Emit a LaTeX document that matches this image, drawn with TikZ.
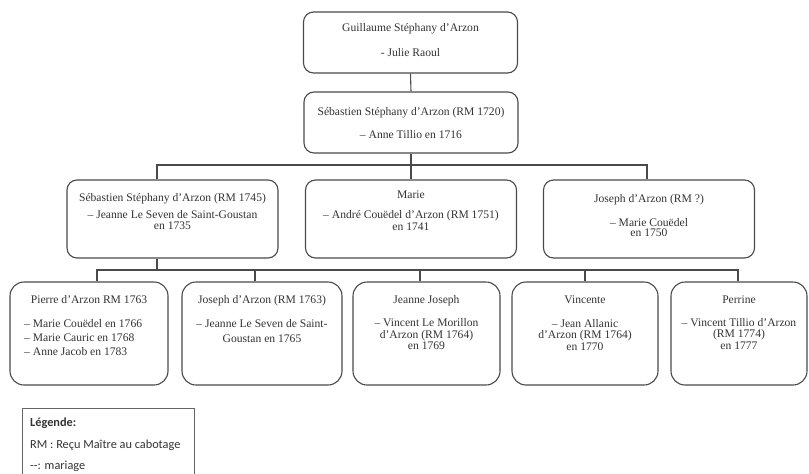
\documentclass[tikz,border=0pt]{standalone}
\usepackage{fontspec}
\setmainfont{Liberation Serif}
\newfontfamily\legfont{Carlito}
\definecolor{edge}{HTML}{4A4A4A}
\definecolor{ink}{HTML}{333333}
\begin{document}
\begin{tikzpicture}[x=1pt,y=-1pt,
  box/.style={draw=edge, line width=1.1pt, rounded corners=10pt, inner sep=0pt},
  lowbox/.style={box, rounded corners=14pt, minimum height=103pt},
  midbox/.style={box, minimum height=78pt, minimum width=211pt},
  topbox/.style={box, minimum height=61pt, minimum width=214pt},
  txt/.style={text=ink, inner sep=0pt, anchor=north, align=center, font=\fontsize{11.6}{11.5}\selectfont},
  link/.style={draw=edge, line width=1.1pt},
  legtxt/.style={text=ink, inner sep=0pt, anchor=north west, align=left, font=\legfont\fontsize{12.3}{21.5}\selectfont}
]
\useasboundingbox (0,0) rectangle (809,474);

% boxes
\node[topbox] (b1) at (410.5,42.5) {};
\node[topbox] (b2) at (411,122.5) {};
\node[midbox] (c1) at (172.5,219) {};
\node[midbox] (c2) at (411,219) {};
\node[midbox] (c3) at (649,219) {};
\node[lowbox, minimum width=158pt] (d1) at (89,333.5) {};
\node[lowbox, minimum width=160pt] (d2) at (262,333.5) {};
\node[lowbox, minimum width=147pt] (d3) at (426.5,333.5) {};
\node[lowbox, minimum width=146pt] (d4) at (585,333.5) {};
\node[lowbox, minimum width=136pt] (d5) at (739,333.5) {};

% texts
\node[txt] (t1) at ([yshift=-12pt]b1.north) {Guillaume Stéphany d'Arzon\\[13.5pt]- Julie Raoul};
\node[txt] (t2) at ([yshift=-15.5pt]b2.north) {Sébastien Stéphany d'Arzon (RM 1720)\\[11.5pt]– Anne Tillio en 1716};
\node[txt] (tc1) at ([yshift=-13.5pt]c1.north) {Sébastien Stéphany d'Arzon (RM 1745)\\[5.5pt]– Jeanne Le Seven de Saint-Goustan\\en 1735};
\node[txt] (tc2) at ([yshift=-11.5pt]c2.north) {Marie\\[8.5pt]– André Couëdel d'Arzon (RM 1751)\\en 1741};
\node[txt] (tc3) at ([yshift=-14.5pt]c3.north) {Joseph d'Arzon (RM ?)\\[12.5pt]– Marie Couëdel\\[-1.5pt]en 1750};
\node[txt] (td1) at ([yshift=-14pt]d1.north) {Pierre d'Arzon RM 1763};
\node[txt, anchor=north west, align=left, font=\fontsize{11.6}{14}\selectfont] (td1b) at (24,319) {– Marie Couëdel en 1766\\– Marie Cauric en 1768\\– Anne Jacob en 1783};
\node[txt] (td2) at ([yshift=-14pt]d2.north) {Joseph d'Arzon (RM 1763)\\[12.5pt]– Jeanne Le Seven de Saint-\\[3.5pt]Goustan en 1765};
\node[txt] (td3) at ([yshift=-14pt]d3.north) {Jeanne Joseph\\[11.5pt]– Vincent Le Morillon\\d'Arzon (RM 1764)\\en 1769};
\node[txt] (td4) at ([yshift=-14pt]d4.north) {Vincente\\[12.5pt]– Jean Allanic\\d'Arzon (RM 1764)\\en 1770};
\node[txt] (td5) at ([yshift=-14pt]d5.north) {Perrine\\[11.5pt]– Vincent Tillio d'Arzon\\(RM 1774)\\en 1777};

% connectors
\coordinate (jL) at (157,165);
\coordinate (jR) at (647,165);
\coordinate (k0) at (157,270);
\coordinate (k1) at (97,270);
\coordinate (k2) at (255,270);
\coordinate (k3) at (420,270);
\coordinate (k4) at (585,270);
\coordinate (k5) at (738,270);
\draw[link] (b1.south) -- (b2.north);
\draw[link] (b2.south) -- (c2.north);
\draw[link] (jL |- c1.north) -- (jL) -- (jR) -- (jR |- c3.north);
\draw[link] (k0 |- c1.south) -- (k0);
\draw[link] (k1 |- d1.north) -- (k1) -- (k5) -- (k5 |- d5.north);
\draw[link] (k2) -- (k2 |- d2.north);
\draw[link] (k3) -- (k3 |- d3.north);
\draw[link] (k4) -- (k4 |- d4.north);

% legend
\node[draw=edge!85, line width=1pt, inner sep=0pt, anchor=north west, minimum width=172pt, minimum height=67pt] (leg) at (22,408) {};
\node[legtxt] (legt) at (30,418) {\textbf{Légende:}\\RM : Reçu Maître au cabotage\\{-}{-}: mariage};
\end{tikzpicture}
\end{document}
